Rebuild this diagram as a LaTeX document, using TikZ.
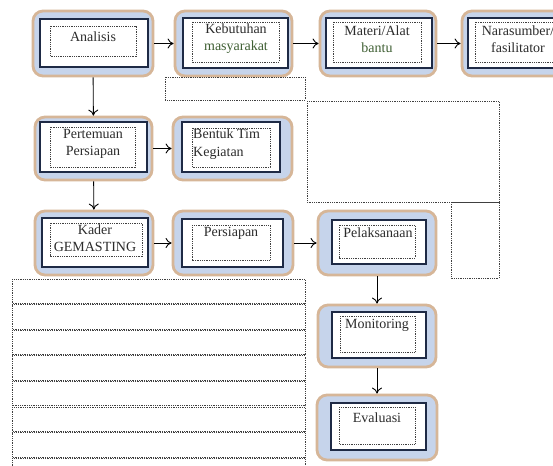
\documentclass[tikz,border=0pt]{standalone}
\usepackage{xcolor}
\usepackage{fontspec}
\setmainfont{Liberation Serif}
\usepackage{tikz}
\usetikzlibrary{calc,arrows.meta}

\definecolor{boxfill}{HTML}{C6D4EB}
\definecolor{boxedge}{HTML}{D6B698}
\definecolor{inneredge}{HTML}{1E2A45}
\definecolor{txtgray}{HTML}{2C2C2C}
\definecolor{wordgreen}{HTML}{3F5F33}

\begin{document}
\begin{tikzpicture}[x=1pt,y=-1pt,
  outer/.style={draw=boxedge,line width=2.8pt,fill=boxfill,rounded corners=10pt,inner sep=0pt},
  inner/.style={draw=inneredge,line width=1.5pt,fill=white},
  dotbox/.style={draw=black!75,line width=0.7pt,dash pattern=on 0.9pt off 0.9pt},
  lbl/.style={text=txtgray,align=center,inner sep=0pt,font=\fontsize{14}{17.5}\selectfont},
  arr/.style={-{To[length=6pt,width=10pt]},line width=0.9pt,black}]

  % Canvas
  \useasboundingbox (0,0) rectangle (553,465);
  \clip (0,0) rectangle (553,465);
  \fill[white] (0,0) rectangle (553,465);

  % Row 1
  \node[outer,minimum width=120,minimum height=65] (analisis) at (93,43.5) {};
  \draw[inner] (40,19) rectangle (148,67);
  \draw[dotbox] (50,26) rectangle (136,56);
  \node[lbl] (analisis-t) at (93,37) {Analisis};

  \node[outer,minimum width=117,minimum height=65] (kebutuhan) at (233.5,43.5) {};
  \draw[inner] (183,18) rectangle (288,68);
  \draw[dotbox] (192,22) rectangle (279,62);
  \node[lbl] (kebutuhan-t) at (236,38.5) {Kebutuhan\\{\color{wordgreen}masyarakat}};

  \node[outer,minimum width=116,minimum height=65] (materi) at (378,43.5) {};
  \draw[inner] (326,18) rectangle (432,68);
  \draw[dotbox] (333,22) rectangle (421,62);
  \node[lbl] (materi-t) at (377,39) {Materi/Alat\\{\color{wordgreen}bantu}};

  \node[outer,minimum width=113,minimum height=65] (narasumber) at (518.5,43.5) {};
  \draw[inner] (468,18) rectangle (568,68);
  \draw[dotbox] (475,22) rectangle (561,62);
  \node[lbl] (narasumber-t) at (518,39) {Narasumber/\\fasilitator};

  \draw[dotbox] (165,77) rectangle (305,100);

  % Row 2
  \node[outer,minimum width=117,minimum height=63] (pertemuan) at (93.5,148.5) {};
  \draw[inner] (40,122) rectangle (147,172);
  \draw[dotbox] (50,127) rectangle (135,167);
  \node[lbl] (pertemuan-t) at (93,144) {Pertemuan\\Persiapan};

  \node[outer,minimum width=119,minimum height=63] (bentuk) at (232.5,148.5) {};
  \draw[inner] (182,122) rectangle (280,172);
  \draw[dotbox] (192,128) rectangle (270,167);
  \node[lbl,align=left,anchor=west] (bentuk-t) at (193,144) {Bentuk Tim\\Kegiatan};

  \draw[dotbox] (307,101) rectangle (499,202);
  \draw[dotbox] (451,202) rectangle (499,278);

  % Row 3
  \node[outer,minimum width=118,minimum height=64] (kader) at (94,243) {};
  \draw[inner] (42,218) rectangle (148,267);
  \draw[dotbox] (50,223) rectangle (142,256);
  \node[lbl] (kader-t) at (95,238) {Kader\\GEMASTING};

  \node[outer,minimum width=120,minimum height=64] (persiapan) at (233,243) {};
  \draw[inner] (182,219) rectangle (283,267);
  \draw[dotbox] (192,225) rectangle (270,260);
  \node[lbl] (persiapan-t) at (231,233) {Persiapan};

  \node[outer,minimum width=118,minimum height=64] (pelaksanaan) at (377,243) {};
  \draw[inner] (332,220) rectangle (426,264);
  \draw[dotbox] (339,225) rectangle (415,258);
  \node[lbl] (pelaksanaan-t) at (378,233) {Pelaksanaan};

  % Right column
  \node[outer,minimum width=118,minimum height=62] (monitoring) at (377,336) {};
  \draw[inner] (332,312) rectangle (426,358);
  \draw[dotbox] (340,316) rectangle (415,352);
  \node[lbl] (monitoring-t) at (377,325) {Monitoring};

  \node[outer,minimum width=120,minimum height=65] (evaluasi) at (377,427.5) {};
  \draw[inner] (331,403) rectangle (426,450);
  \draw[dotbox] (339,407) rectangle (415,444);
  \node[lbl] (evaluasi-t) at (377,418) {Evaluasi};

  % Lined box
  \foreach \i in {0,...,7}
    \draw[dotbox] (12,{279+\i*25.6}) rectangle (305,{279+\i*25.6+24.4});

  % Arrows
  \draw[arr] (analisis) -- (kebutuhan);
  \draw[arr] (kebutuhan) -- (materi);
  \draw[arr] (materi) -- (narasumber);
  \draw[arr] (analisis) -- (pertemuan);
  \draw[arr] (pertemuan) -- (bentuk);
  \draw[arr] (pertemuan) -- (kader);
  \draw[arr] (kader) -- (persiapan);
  \draw[arr] (persiapan) -- (pelaksanaan);
  \draw[arr] (pelaksanaan) -- (monitoring);
  \draw[arr] (monitoring) -- (evaluasi);

\end{tikzpicture}
\end{document}
